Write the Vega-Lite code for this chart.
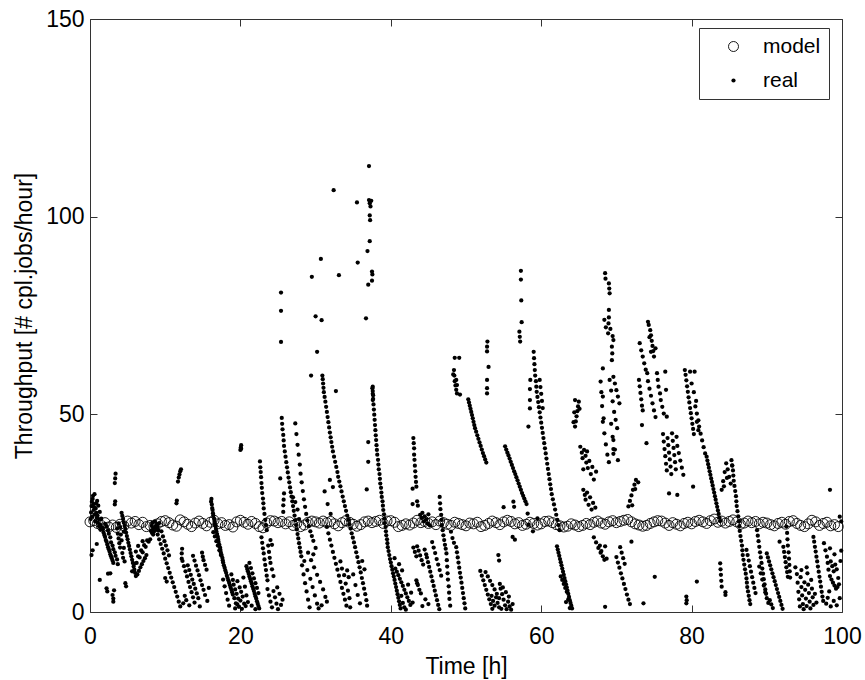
{
"$schema":"https://vega.github.io/schema/vega-lite/v6.json",
"width":752,"height":593,
"autosize":{"type":"none"},
"padding":{"left":90,"top":19,"right":23,"bottom":68},
"background":"white",
"config":{"font":"Liberation Sans","view":{"stroke":"#333","strokeWidth":1},
"axis":{"grid":false,"domain":false,"tickColor":"#333","tickSize":-7,"labelFlush":false,"labelFontSize":23,"titleFontSize":23,"titleFontWeight":"normal","labelColor":"black","titleColor":"black"},
"legend":{"orient":"none","legendX":609,"legendY":9}},
"datasets":{
"model":[{"t":0,"y":22.8},{"t":0.5,"y":23.1},{"t":1,"y":22.4},{"t":1.5,"y":21.9},{"t":2,"y":22.6},{"t":2.5,"y":21.5},{"t":3,"y":22.0},{"t":3.5,"y":21.4},{"t":4,"y":22.2},{"t":4.5,"y":21.8},
{"t":5,"y":23.0},{"t":5.5,"y":22.5},{"t":6,"y":22.9},{"t":6.5,"y":22.1},{"t":7,"y":22.7},{"t":7.5,"y":21.6},{"t":8,"y":21.9},{"t":8.5,"y":21.7},{"t":9,"y":22.3},{"t":9.5,"y":22.9},
{"t":10,"y":23.1},{"t":10.5,"y":22.6},{"t":11,"y":22.0},{"t":11.5,"y":21.7},{"t":12,"y":23.3},{"t":12.5,"y":22.8},{"t":13,"y":22.2},{"t":13.5,"y":21.6},{"t":14,"y":22.5},{"t":14.5,"y":23.0},
{"t":15,"y":22.4},{"t":15.5,"y":21.8},{"t":16,"y":22.7},{"t":16.5,"y":23.2},{"t":17,"y":22.3},{"t":17.5,"y":22.6},{"t":18,"y":21.9},{"t":18.5,"y":22.1},{"t":19,"y":21.5},{"t":19.5,"y":22.8},
{"t":20,"y":23.2},{"t":20.5,"y":22.7},{"t":21,"y":22.2},{"t":21.5,"y":22.9},{"t":22,"y":22.4},{"t":22.5,"y":21.6},{"t":23,"y":21.3},{"t":23.5,"y":22.5},{"t":24,"y":23.1},{"t":24.5,"y":23.0},
{"t":25,"y":22.6},{"t":25.5,"y":22.9},{"t":26,"y":22.3},{"t":26.5,"y":22.8},{"t":27,"y":21.9},{"t":27.5,"y":22.4},{"t":28,"y":21.6},{"t":28.5,"y":22.0},{"t":29,"y":22.7},{"t":29.5,"y":23.0},
{"t":30,"y":22.8},{"t":30.5,"y":22.5},{"t":31,"y":23.0},{"t":31.5,"y":22.6},{"t":32,"y":22.9},{"t":32.5,"y":22.3},{"t":33,"y":21.8},{"t":33.5,"y":22.6},{"t":34,"y":23.1},{"t":34.5,"y":22.7},
{"t":35,"y":22.2},{"t":35.5,"y":21.7},{"t":36,"y":22.1},{"t":36.5,"y":22.8},{"t":37,"y":23.0},{"t":37.5,"y":22.6},{"t":38,"y":22.9},{"t":38.5,"y":23.2},{"t":39,"y":22.4},{"t":39.5,"y":23.0},
{"t":40,"y":23.1},{"t":40.5,"y":22.7},{"t":41,"y":21.6},{"t":41.5,"y":21.9},{"t":42,"y":22.3},{"t":42.5,"y":22.0},{"t":43,"y":22.5},{"t":43.5,"y":23.2},{"t":44,"y":22.6},{"t":44.5,"y":22.9},
{"t":45,"y":22.4},{"t":45.5,"y":22.8},{"t":46,"y":22.1},{"t":46.5,"y":23.0},{"t":47,"y":22.6},{"t":47.5,"y":22.2},{"t":48,"y":21.9},{"t":48.5,"y":22.7},{"t":49,"y":22.4},{"t":49.5,"y":22.1},
{"t":50,"y":21.8},{"t":50.5,"y":22.5},{"t":51,"y":22.3},{"t":51.5,"y":22.7},{"t":52,"y":21.6},{"t":52.5,"y":21.9},{"t":53,"y":22.4},{"t":53.5,"y":23.0},{"t":54,"y":22.6},{"t":54.5,"y":22.1},
{"t":55,"y":22.8},{"t":55.5,"y":23.2},{"t":56,"y":22.9},{"t":56.5,"y":22.3},{"t":57,"y":22.6},{"t":57.5,"y":21.9},{"t":58,"y":22.2},{"t":58.5,"y":22.7},{"t":59,"y":22.4},{"t":59.5,"y":22.0},
{"t":60,"y":22.3},{"t":60.5,"y":22.9},{"t":61,"y":23.0},{"t":61.5,"y":22.6},{"t":62,"y":22.1},{"t":62.5,"y":21.8},{"t":63,"y":21.5},{"t":63.5,"y":21.7},{"t":64,"y":22.3},{"t":64.5,"y":22.0},
{"t":65,"y":21.6},{"t":65.5,"y":21.9},{"t":66,"y":22.4},{"t":66.5,"y":22.1},{"t":67,"y":22.7},{"t":67.5,"y":23.0},{"t":68,"y":22.5},{"t":68.5,"y":22.2},{"t":69,"y":22.8},{"t":69.5,"y":23.1},
{"t":70,"y":22.6},{"t":70.5,"y":22.9},{"t":71,"y":23.2},{"t":71.5,"y":23.4},{"t":72,"y":22.8},{"t":72.5,"y":22.3},{"t":73,"y":22.0},{"t":73.5,"y":21.7},{"t":74,"y":21.9},{"t":74.5,"y":22.4},
{"t":75,"y":22.8},{"t":75.5,"y":23.1},{"t":76,"y":23.0},{"t":76.5,"y":22.5},{"t":77,"y":21.9},{"t":77.5,"y":22.6},{"t":78,"y":22.2},{"t":78.5,"y":21.8},{"t":79,"y":22.4},{"t":79.5,"y":22.7},
{"t":80,"y":22.3},{"t":80.5,"y":22.9},{"t":81,"y":23.2},{"t":81.5,"y":22.8},{"t":82,"y":22.4},{"t":82.5,"y":23.1},{"t":83,"y":23.5},{"t":83.5,"y":22.7},{"t":84,"y":23.0},{"t":84.5,"y":22.5},
{"t":85,"y":22.9},{"t":85.5,"y":23.3},{"t":86,"y":22.8},{"t":86.5,"y":22.2},{"t":87,"y":22.5},{"t":87.5,"y":23.0},{"t":88,"y":22.6},{"t":88.5,"y":22.9},{"t":89,"y":22.3},{"t":89.5,"y":22.7},
{"t":90,"y":22.5},{"t":90.5,"y":22.1},{"t":91,"y":21.8},{"t":91.5,"y":22.4},{"t":92,"y":22.7},{"t":92.5,"y":22.2},{"t":93,"y":22.9},{"t":93.5,"y":23.1},{"t":94,"y":22.4},{"t":94.5,"y":21.9},
{"t":95,"y":21.6},{"t":95.5,"y":22.3},{"t":96,"y":23.2},{"t":96.5,"y":22.8},{"t":97,"y":21.9},{"t":97.5,"y":22.4},{"t":98,"y":22.7},{"t":98.5,"y":21.8},{"t":99,"y":22.1},{"t":99.5,"y":21.6}],
"real":[
{"t":0.1,"y":23.5},{"t":0.15,"y":25.2},{"t":0.2,"y":26.8},{"t":0.25,"y":27.9},{"t":0.3,"y":24.1},{"t":0.35,"y":28.6},{"t":0.4,"y":29.4},{"t":0.45,"y":27.3},{"t":0.5,"y":25.8},{"t":0.55,"y":26.5},{"t":0.6,"y":29.8},{"t":0.65,"y":24.7},{"t":0.7,"y":22.9},{"t":0.75,"y":26.2},{"t":0.8,"y":27.5},{"t":0.85,"y":25.1},{"t":0.9,"y":23.8},{"t":0.95,"y":28.1},{"t":1.0,"y":24.4},{"t":1.05,"y":22.6},{"t":1.1,"y":26.9},{"t":1.15,"y":23.5},{"t":1.2,"y":21.7},{"t":1.3,"y":25.3},{"t":1.35,"y":22.1},{"t":1.4,"y":20.8},{"t":1.5,"y":23.6},{"t":1.55,"y":21.2},
{"t":0.2,"y":14.4},{"t":0.35,"y":15.6},{"t":1.3,"y":8.1},{"t":0.9,"y":17.2},
{"t":1.6,"y":21.4},{"t":1.7,"y":20.9},{"t":1.8,"y":20.1},{"t":1.9,"y":19.5},{"t":2.0,"y":19.0},{"t":2.1,"y":18.2},{"t":2.2,"y":17.8},{"t":2.3,"y":17.1},{"t":2.4,"y":16.4},{"t":2.5,"y":15.9},{"t":2.6,"y":15.3},{"t":2.7,"y":14.6},{"t":2.8,"y":14.1},{"t":2.9,"y":13.6},{"t":3.0,"y":13.0},{"t":3.1,"y":12.4},
{"t":2.0,"y":22.3},{"t":2.2,"y":21.6},{"t":2.4,"y":20.7},{"t":2.5,"y":19.8},{"t":2.7,"y":18.9},{"t":2.8,"y":17.6},{"t":3.0,"y":16.8},{"t":3.1,"y":15.9},{"t":3.3,"y":15.1},{"t":3.4,"y":14.2},{"t":3.6,"y":13.3},{"t":3.7,"y":12.1},
{"t":2.2,"y":6.0},{"t":2.3,"y":5.2},{"t":2.7,"y":9.8},{"t":2.4,"y":9.7},{"t":3.0,"y":4.3},{"t":3.1,"y":3.4},{"t":3.1,"y":2.6},{"t":3.2,"y":5.5},
{"t":3.3,"y":32.6},{"t":3.35,"y":33.8},{"t":3.4,"y":35.0},{"t":3.3,"y":27.2},{"t":3.35,"y":28.0},
{"t":3.6,"y":21.1},{"t":3.7,"y":19.8},{"t":3.8,"y":18.6},{"t":3.9,"y":17.4},{"t":4.0,"y":16.3},{"t":4.1,"y":19.6},{"t":4.2,"y":18.1},{"t":4.3,"y":14.9},{"t":4.4,"y":13.7},{"t":4.5,"y":16.2},{"t":4.6,"y":12.8},{"t":3.8,"y":22.4},{"t":4.0,"y":21.5},{"t":4.5,"y":20.3},
{"t":4.2,"y":25.1},{"t":4.3,"y":24.3},{"t":4.4,"y":23.5},{"t":4.5,"y":22.6},{"t":4.6,"y":21.8},{"t":4.7,"y":21.0},{"t":4.8,"y":20.1},{"t":4.9,"y":19.2},{"t":5.0,"y":18.4},{"t":5.1,"y":17.5},{"t":5.2,"y":16.7},{"t":5.3,"y":15.8},{"t":5.4,"y":14.9},{"t":5.5,"y":14.1},{"t":5.6,"y":13.2},{"t":5.7,"y":12.4},{"t":5.8,"y":11.5},{"t":5.9,"y":10.7},{"t":6.0,"y":9.9},{"t":6.1,"y":9.1},
{"t":4.7,"y":7.3},{"t":4.8,"y":6.5},
{"t":5.6,"y":10.3},{"t":5.9,"y":12.2},{"t":6.2,"y":12.4},{"t":6.4,"y":14.1},{"t":6.6,"y":13.8},{"t":6.8,"y":15.6},{"t":7.0,"y":15.1},{"t":7.2,"y":16.9},{"t":7.4,"y":16.5},{"t":7.6,"y":18.1},{"t":7.8,"y":17.8},{"t":8.0,"y":18.4},
{"t":6.3,"y":9.5},{"t":6.5,"y":10.4},{"t":6.7,"y":11.3},{"t":6.9,"y":12.1},{"t":7.1,"y":12.9},{"t":7.3,"y":13.6},{"t":7.5,"y":14.4},{"t":6.1,"y":15.3},{"t":6.4,"y":16.7},{"t":7.0,"y":17.9},
{"t":8.1,"y":20.5},{"t":8.2,"y":21.8},{"t":8.3,"y":22.6},{"t":8.4,"y":21.1},{"t":8.5,"y":20.3},{"t":8.6,"y":22.9},{"t":8.7,"y":21.6},{"t":8.8,"y":20.8},{"t":8.9,"y":22.2},{"t":9.0,"y":21.4},{"t":9.1,"y":20.6},{"t":9.2,"y":22.5},{"t":8.4,"y":19.6},{"t":8.25,"y":20.0},
{"t":9.0,"y":19.6},{"t":9.2,"y":18.4},{"t":9.4,"y":17.2},{"t":9.6,"y":16.0},{"t":9.8,"y":14.8},{"t":10.0,"y":13.5},{"t":10.2,"y":12.3},{"t":10.4,"y":11.1},{"t":10.6,"y":9.9},{"t":10.8,"y":8.7},{"t":11.0,"y":7.5},{"t":11.2,"y":6.3},{"t":11.4,"y":5.1},{"t":11.6,"y":3.9},{"t":11.8,"y":2.6},{"t":12.0,"y":1.4},
{"t":9.5,"y":20.4},{"t":9.7,"y":19.1},{"t":9.9,"y":17.9},{"t":10.1,"y":16.8},{"t":10.3,"y":15.6},{"t":10.5,"y":14.3},
{"t":10.2,"y":7.7},{"t":10.0,"y":8.6},
{"t":11.5,"y":27.5},{"t":11.55,"y":28.2},{"t":11.7,"y":33.0},{"t":11.8,"y":34.0},{"t":11.9,"y":34.8},{"t":12.0,"y":35.6},{"t":12.1,"y":36.1},
{"t":12.2,"y":13.5},{"t":12.2,"y":14.8},{"t":12.25,"y":16.0},
{"t":12.3,"y":12.9},{"t":12.5,"y":11.6},{"t":12.7,"y":10.3},{"t":12.9,"y":9.0},{"t":13.1,"y":7.6},{"t":13.3,"y":6.3},{"t":13.5,"y":5.0},{"t":13.7,"y":3.7},{"t":13.9,"y":2.4},
{"t":13.0,"y":11.8},{"t":13.2,"y":10.6},{"t":13.4,"y":9.4},{"t":13.6,"y":8.2},{"t":13.8,"y":7.1},{"t":14.0,"y":5.9},{"t":14.2,"y":4.7},{"t":14.4,"y":3.5},
{"t":13.7,"y":14.2},{"t":13.9,"y":13.0},{"t":14.1,"y":11.7},{"t":14.3,"y":10.5},{"t":14.5,"y":9.3},{"t":14.7,"y":8.0},{"t":14.9,"y":6.8},{"t":15.1,"y":5.6},{"t":15.3,"y":4.3},
{"t":14.9,"y":15.0},{"t":15.0,"y":14.0},{"t":15.1,"y":13.1},{"t":15.3,"y":11.9},{"t":15.5,"y":10.7},
{"t":12.6,"y":4.1},{"t":12.8,"y":3.0},{"t":12.4,"y":2.2},{"t":13.2,"y":1.7},{"t":14.6,"y":1.4},{"t":15.6,"y":2.8},{"t":15.8,"y":6.1},
{"t":16.1,"y":27.9},{"t":16.15,"y":28.6},{"t":16.2,"y":27.2},{"t":16.25,"y":26.3},{"t":16.3,"y":25.8},{"t":16.35,"y":25.0},{"t":16.4,"y":24.4},{"t":16.5,"y":23.6},{"t":16.55,"y":23.0},{"t":16.6,"y":22.3},{"t":16.7,"y":21.7},{"t":16.75,"y":21.0},{"t":16.8,"y":20.4},{"t":16.9,"y":19.7},{"t":17.0,"y":19.0},{"t":17.05,"y":18.3},{"t":17.1,"y":17.7},{"t":17.2,"y":17.0},{"t":17.3,"y":16.3},{"t":17.35,"y":15.7},{"t":17.4,"y":15.0},{"t":17.5,"y":14.4},{"t":17.6,"y":13.7},{"t":17.65,"y":13.1},{"t":17.7,"y":12.5},{"t":17.8,"y":11.8},{"t":17.9,"y":11.2},{"t":18.0,"y":10.5},{"t":18.1,"y":9.9},{"t":18.2,"y":9.2},{"t":18.3,"y":8.6},{"t":18.4,"y":8.0},{"t":18.5,"y":7.4},{"t":18.6,"y":6.8},{"t":18.7,"y":6.2},{"t":18.8,"y":5.6},{"t":18.9,"y":5.0},{"t":19.0,"y":4.4},
{"t":16.4,"y":20.2},{"t":16.6,"y":19.1},{"t":16.8,"y":17.9},{"t":17.0,"y":16.8},{"t":17.2,"y":15.6},{"t":17.4,"y":14.4},
{"t":17.7,"y":8.2},{"t":17.9,"y":6.5},{"t":18.1,"y":4.8},{"t":18.3,"y":3.1},{"t":18.5,"y":1.6},{"t":18.8,"y":9.5},{"t":19.0,"y":8.1},{"t":19.1,"y":6.9},{"t":19.2,"y":3.5},{"t":19.3,"y":5.7},{"t":19.4,"y":2.2},{"t":19.5,"y":4.6},{"t":19.6,"y":7.8},{"t":19.7,"y":3.4},{"t":19.8,"y":1.3},{"t":19.9,"y":6.2},{"t":20.0,"y":2.9},{"t":20.1,"y":5.1},{"t":20.2,"y":0.8},{"t":20.3,"y":3.9},{"t":20.4,"y":8.7},{"t":20.5,"y":2.1},{"t":20.6,"y":6.4},{"t":20.7,"y":1.5},{"t":20.8,"y":4.2},{"t":19.3,"y":0.9},{"t":19.6,"y":1.9},
{"t":20.0,"y":41.0},{"t":20.05,"y":41.6},{"t":20.1,"y":42.2},{"t":20.1,"y":41.3},
{"t":20.8,"y":11.6},{"t":20.9,"y":10.9},{"t":21.0,"y":10.3},{"t":21.1,"y":9.7},{"t":21.2,"y":9.0},{"t":21.3,"y":8.4},{"t":21.4,"y":7.8},{"t":21.5,"y":7.2},{"t":21.6,"y":6.5},{"t":21.7,"y":5.9},{"t":21.8,"y":5.3},{"t":21.9,"y":4.6},{"t":22.0,"y":4.0},{"t":22.1,"y":3.4},{"t":22.2,"y":2.7},{"t":22.3,"y":2.1},{"t":22.4,"y":1.5},{"t":22.5,"y":0.9},
{"t":21.2,"y":12.4},{"t":21.4,"y":11.1},{"t":21.6,"y":9.8},{"t":21.8,"y":8.5},{"t":22.0,"y":7.3},{"t":22.2,"y":6.1},{"t":22.4,"y":4.8},
{"t":21.0,"y":2.5},{"t":21.5,"y":1.6},{"t":22.0,"y":0.7},
{"t":22.6,"y":38.1},{"t":22.65,"y":36.6},{"t":22.7,"y":35.4},{"t":22.75,"y":34.1},{"t":22.8,"y":32.6},{"t":22.85,"y":31.4},{"t":22.9,"y":30.1},{"t":23.0,"y":28.7},{"t":23.05,"y":27.5},{"t":23.1,"y":26.2},{"t":23.2,"y":24.8},{"t":23.3,"y":23.3},{"t":23.4,"y":22.0},{"t":23.5,"y":20.7},
{"t":22.8,"y":18.9},{"t":22.9,"y":17.5},{"t":23.0,"y":16.1},{"t":23.1,"y":14.8},{"t":23.2,"y":13.3},{"t":23.3,"y":11.9},{"t":23.4,"y":10.6},{"t":23.5,"y":9.2},{"t":23.6,"y":8.0},{"t":23.7,"y":16.8},{"t":23.8,"y":15.2},{"t":23.9,"y":13.7},{"t":24.0,"y":12.4},{"t":24.2,"y":10.8},{"t":24.4,"y":9.1},{"t":24.0,"y":18.2},{"t":24.2,"y":17.0},
{"t":23.6,"y":5.8},{"t":23.8,"y":4.2},{"t":24.0,"y":2.6},{"t":24.2,"y":1.2},{"t":24.4,"y":5.3},{"t":24.6,"y":3.7},{"t":24.8,"y":2.1},{"t":25.0,"y":0.7},{"t":25.2,"y":4.6},{"t":25.4,"y":1.8},{"t":25.6,"y":3.1},{"t":24.9,"y":6.2},
{"t":25.3,"y":33.8},{"t":25.4,"y":80.8},{"t":25.4,"y":76.2},{"t":25.4,"y":68.3},
{"t":25.5,"y":49.1},{"t":25.55,"y":47.6},{"t":25.6,"y":46.2},{"t":25.7,"y":44.8},{"t":25.75,"y":43.4},{"t":25.8,"y":42.0},{"t":25.9,"y":40.6},{"t":26.0,"y":39.3},{"t":26.1,"y":37.9},{"t":26.2,"y":36.6},{"t":26.3,"y":35.3},{"t":26.4,"y":34.0},{"t":26.5,"y":32.8},{"t":26.6,"y":31.5},{"t":26.7,"y":30.3},{"t":26.8,"y":29.2},
{"t":26.9,"y":28.0},{"t":27.0,"y":26.8},{"t":27.1,"y":25.6},{"t":27.2,"y":24.4},{"t":27.3,"y":23.2},{"t":27.4,"y":22.0},{"t":27.5,"y":20.9},{"t":27.6,"y":19.7},{"t":27.7,"y":18.6},{"t":27.8,"y":17.4},{"t":27.9,"y":16.3},{"t":28.0,"y":15.2},{"t":28.1,"y":14.1},
{"t":25.7,"y":25.3},{"t":25.7,"y":27.0},{"t":25.75,"y":28.4},{"t":25.8,"y":30.0},
{"t":27.3,"y":47.7},{"t":27.45,"y":45.0},{"t":27.6,"y":42.3},{"t":27.75,"y":39.8},{"t":27.9,"y":37.3},{"t":28.0,"y":35.0},{"t":28.15,"y":32.8},{"t":28.3,"y":30.6},{"t":28.45,"y":28.5},{"t":28.6,"y":26.6},{"t":28.75,"y":24.8},{"t":28.9,"y":23.2},{"t":29.1,"y":21.7},{"t":29.3,"y":20.4},{"t":29.5,"y":19.2},{"t":29.7,"y":18.0},
{"t":27.0,"y":29.0},{"t":27.3,"y":27.8},{"t":27.6,"y":25.9},{"t":27.8,"y":23.5},
{"t":28.2,"y":11.8},{"t":28.4,"y":9.5},{"t":28.6,"y":7.3},{"t":28.8,"y":5.2},{"t":29.0,"y":3.1},{"t":29.2,"y":1.2},{"t":28.5,"y":12.9},{"t":28.9,"y":10.6},{"t":29.3,"y":8.4},{"t":29.6,"y":6.3},{"t":29.9,"y":4.2},{"t":30.2,"y":2.1},{"t":29.0,"y":15.0},{"t":29.4,"y":13.1},{"t":29.8,"y":11.3},{"t":30.2,"y":9.4},{"t":30.6,"y":7.6},{"t":31.0,"y":5.7},{"t":31.3,"y":3.8},{"t":30.4,"y":0.9},{"t":30.8,"y":1.7},{"t":31.5,"y":2.6},{"t":29.7,"y":14.6},{"t":30.0,"y":16.2},
{"t":29.5,"y":84.8},{"t":29.4,"y":59.8},{"t":30.0,"y":74.8},{"t":30.2,"y":65.8},{"t":30.7,"y":89.3},{"t":30.8,"y":73.8},{"t":32.4,"y":106.7},{"t":33.1,"y":85.2},{"t":35.5,"y":103.6},{"t":35.6,"y":88.4},{"t":36.7,"y":74.3},{"t":32.7,"y":55.9},
{"t":30.9,"y":59.8},{"t":30.95,"y":58.9},{"t":31.0,"y":57.8},{"t":31.05,"y":56.7},{"t":31.1,"y":55.6},{"t":31.2,"y":54.4},{"t":31.3,"y":53.2},{"t":31.4,"y":51.9},{"t":31.5,"y":50.6},{"t":31.6,"y":49.3},{"t":31.7,"y":48.0},{"t":31.8,"y":46.7},{"t":31.9,"y":45.4},{"t":32.0,"y":44.2},{"t":32.1,"y":43.0},{"t":32.2,"y":41.8},{"t":32.3,"y":40.6},{"t":32.45,"y":39.3},{"t":32.6,"y":38.0},{"t":32.75,"y":36.7},{"t":32.9,"y":35.4},{"t":33.0,"y":34.2},{"t":33.15,"y":33.0},{"t":33.3,"y":31.8},{"t":33.45,"y":30.5},{"t":33.6,"y":29.2},{"t":33.75,"y":28.0},{"t":33.9,"y":26.8},{"t":34.05,"y":25.6},{"t":34.2,"y":24.4},{"t":34.35,"y":23.3},{"t":34.5,"y":22.2},{"t":34.65,"y":21.1},
{"t":34.8,"y":19.9},{"t":34.95,"y":18.8},{"t":35.1,"y":17.6},{"t":35.25,"y":16.4},{"t":35.4,"y":15.1},{"t":35.55,"y":13.9},{"t":35.7,"y":12.6},{"t":35.85,"y":11.3},{"t":36.0,"y":10.0},{"t":36.15,"y":8.6},{"t":36.3,"y":7.3},{"t":36.45,"y":5.9},{"t":36.6,"y":4.5},{"t":36.75,"y":3.0},{"t":36.85,"y":1.6},
{"t":31.5,"y":21.5},{"t":31.7,"y":19.9},{"t":31.9,"y":18.3},{"t":32.1,"y":16.8},{"t":32.3,"y":15.2},{"t":32.5,"y":13.7},{"t":32.7,"y":12.2},{"t":32.9,"y":10.7},{"t":33.1,"y":9.2},{"t":33.3,"y":7.6},{"t":33.5,"y":6.1},{"t":33.7,"y":4.6},{"t":33.9,"y":3.1},{"t":34.1,"y":1.6},
{"t":31.2,"y":30.5},{"t":31.6,"y":27.3},{"t":32.0,"y":24.8},{"t":32.3,"y":31.6},{"t":31.9,"y":33.4},
{"t":33.3,"y":12.8},{"t":33.5,"y":11.0},{"t":33.8,"y":9.3},{"t":34.0,"y":7.2},{"t":34.3,"y":5.4},{"t":34.5,"y":3.5},{"t":34.6,"y":1.2},{"t":34.2,"y":10.5},{"t":34.4,"y":8.8},
{"t":35.3,"y":6.8},{"t":35.6,"y":4.3},{"t":35.9,"y":2.2},{"t":36.2,"y":12.9},{"t":36.5,"y":10.8},{"t":35.0,"y":9.5},
{"t":37.1,"y":112.8},{"t":37.1,"y":104.2},{"t":37.2,"y":103.4},{"t":37.3,"y":102.6},{"t":37.4,"y":104.0},{"t":37.2,"y":100.3},{"t":37.25,"y":99.1},{"t":37.2,"y":93.8},{"t":36.9,"y":91.3},{"t":37.5,"y":86.1},{"t":37.55,"y":85.4},{"t":37.5,"y":83.8},{"t":37.0,"y":82.8},
{"t":37.6,"y":57.0},{"t":37.6,"y":55.9},{"t":37.65,"y":54.8},{"t":37.6,"y":53.6},
{"t":37.0,"y":43.0},{"t":37.0,"y":38.0},{"t":36.8,"y":31.0},
{"t":37.55,"y":56.6},{"t":37.6,"y":55.2},{"t":37.65,"y":53.9},{"t":37.7,"y":52.5},{"t":37.75,"y":51.2},{"t":37.8,"y":49.9},{"t":37.85,"y":48.6},{"t":37.9,"y":47.3},{"t":37.95,"y":46.0},{"t":38.0,"y":44.7},{"t":38.05,"y":43.5},{"t":38.1,"y":42.2},{"t":38.15,"y":41.0},{"t":38.2,"y":39.8},{"t":38.3,"y":38.5},{"t":38.35,"y":37.3},{"t":38.4,"y":36.1},{"t":38.5,"y":34.9},{"t":38.55,"y":33.7},{"t":38.6,"y":32.5},{"t":38.7,"y":31.4},{"t":38.75,"y":30.2},{"t":38.8,"y":29.1},{"t":38.9,"y":28.0},{"t":38.95,"y":26.9},{"t":39.0,"y":25.8},{"t":39.1,"y":24.7},{"t":39.15,"y":23.6},{"t":39.2,"y":22.5},{"t":39.3,"y":21.5},{"t":39.35,"y":20.4},{"t":39.4,"y":19.4},{"t":39.5,"y":18.4},{"t":39.55,"y":17.4},{"t":39.6,"y":16.4},{"t":39.7,"y":15.4},{"t":39.8,"y":14.4},{"t":39.9,"y":13.4},{"t":40.0,"y":12.5},{"t":40.1,"y":11.6},{"t":40.2,"y":10.7},{"t":40.3,"y":9.8},
{"t":40.4,"y":9.0},{"t":40.5,"y":8.1},{"t":40.6,"y":7.2},{"t":40.7,"y":6.3},{"t":40.8,"y":5.4},{"t":40.9,"y":4.5},{"t":41.0,"y":3.6},{"t":41.1,"y":2.7},{"t":41.2,"y":1.8},{"t":41.3,"y":0.9},{"t":40.6,"y":11.0},{"t":40.8,"y":10.2},{"t":41.0,"y":9.3},{"t":41.2,"y":8.4},{"t":41.4,"y":7.5},{"t":41.6,"y":6.6},{"t":41.8,"y":5.6},{"t":42.0,"y":4.7},{"t":42.2,"y":3.7},{"t":42.4,"y":2.8},{"t":42.6,"y":1.8},{"t":41.4,"y":4.1},{"t":41.6,"y":2.3},{"t":41.8,"y":1.2},{"t":42.0,"y":0.6},{"t":41.5,"y":10.5},{"t":42.3,"y":6.9},{"t":42.7,"y":4.9},{"t":42.9,"y":2.4},{"t":40.5,"y":13.6},{"t":41.1,"y":12.1},
{"t":43.0,"y":44.0},{"t":43.05,"y":42.7},{"t":43.1,"y":41.4},{"t":43.1,"y":39.8},{"t":43.15,"y":38.5},{"t":43.2,"y":37.0},{"t":43.25,"y":35.6},{"t":43.3,"y":34.2},{"t":43.35,"y":32.9},{"t":43.4,"y":31.7},{"t":42.9,"y":31.2},
{"t":42.9,"y":27.3},{"t":43.5,"y":28.0},{"t":43.6,"y":26.9},
{"t":43.9,"y":24.6},{"t":44.1,"y":23.8},{"t":44.2,"y":25.1},{"t":44.4,"y":22.9},{"t":44.5,"y":24.2},{"t":44.7,"y":23.4},{"t":44.9,"y":22.4},{"t":45.0,"y":24.7},{"t":45.2,"y":21.9},
{"t":43.0,"y":16.3},{"t":43.2,"y":15.2},{"t":43.4,"y":14.1},{"t":43.5,"y":16.6},{"t":43.7,"y":15.5},{"t":43.9,"y":14.3},{"t":44.1,"y":13.1},{"t":44.3,"y":12.0},{"t":44.5,"y":15.8},{"t":44.7,"y":14.6},
{"t":43.4,"y":8.0},{"t":43.6,"y":6.8},{"t":43.8,"y":5.6},{"t":44.0,"y":4.7},{"t":43.5,"y":7.3},
{"t":44.8,"y":13.8},{"t":44.95,"y":12.6},{"t":45.1,"y":11.4},{"t":45.25,"y":10.2},{"t":45.4,"y":9.0},{"t":45.55,"y":7.8},{"t":45.7,"y":6.6},{"t":45.85,"y":5.4},{"t":46.0,"y":4.2},{"t":46.15,"y":3.0},{"t":46.3,"y":1.8},{"t":46.45,"y":0.7},
{"t":46.5,"y":29.1},{"t":46.55,"y":27.5},{"t":46.6,"y":26.0},{"t":46.7,"y":24.6},{"t":46.75,"y":23.3},{"t":46.8,"y":22.0},{"t":46.9,"y":20.7},{"t":47.0,"y":19.4},{"t":47.1,"y":18.2},{"t":47.2,"y":17.0},{"t":47.3,"y":16.0},
{"t":47.4,"y":14.8},{"t":47.45,"y":13.1},{"t":47.5,"y":11.5},{"t":47.55,"y":9.8},{"t":47.6,"y":8.2},{"t":47.7,"y":6.5},{"t":47.75,"y":4.9},{"t":47.8,"y":3.3},{"t":47.9,"y":1.6},
{"t":45.5,"y":17.7},{"t":45.7,"y":16.3},{"t":45.9,"y":14.9},{"t":46.1,"y":13.4},{"t":46.3,"y":12.0},{"t":46.5,"y":10.6},{"t":46.7,"y":9.2},
{"t":44.2,"y":1.5},{"t":44.6,"y":3.2},{"t":45.0,"y":2.0},
{"t":48.4,"y":61.2},{"t":48.5,"y":64.3},{"t":48.45,"y":59.8},{"t":48.5,"y":58.4},{"t":48.6,"y":57.3},{"t":48.7,"y":56.2},{"t":48.8,"y":55.3},{"t":49.1,"y":64.3},{"t":48.3,"y":60.1},{"t":48.7,"y":58.7},{"t":48.8,"y":57.4},{"t":49.2,"y":55.0},
{"t":48.7,"y":16.4},{"t":48.8,"y":15.1},{"t":48.9,"y":13.8},{"t":49.0,"y":12.5},{"t":49.1,"y":11.2},{"t":49.2,"y":9.9},{"t":49.3,"y":8.7},{"t":49.4,"y":7.4},{"t":49.5,"y":6.1},{"t":49.6,"y":4.8},{"t":49.7,"y":3.5},{"t":49.8,"y":2.2},{"t":49.9,"y":0.9},{"t":48.2,"y":18.7},{"t":48.4,"y":17.5},{"t":48.0,"y":20.3},
{"t":50.3,"y":53.8},{"t":50.4,"y":53.0},{"t":50.5,"y":52.2},{"t":50.6,"y":51.4},{"t":50.7,"y":50.6},{"t":50.8,"y":49.8},{"t":50.9,"y":49.0},{"t":51.0,"y":48.1},{"t":51.1,"y":47.3},{"t":51.2,"y":46.5},{"t":51.35,"y":45.6},{"t":51.5,"y":44.7},{"t":51.65,"y":43.8},{"t":51.8,"y":42.9},{"t":51.95,"y":42.0},{"t":52.1,"y":41.1},{"t":52.25,"y":40.2},{"t":52.4,"y":39.4},{"t":52.55,"y":38.6},{"t":52.7,"y":37.8},
{"t":52.8,"y":65.9},{"t":52.8,"y":67.1},{"t":52.85,"y":68.4},{"t":53.0,"y":62.0},{"t":52.8,"y":55.3},{"t":52.8,"y":56.6},{"t":52.8,"y":58.7},
{"t":51.9,"y":10.4},{"t":52.1,"y":9.2},{"t":52.3,"y":8.0},{"t":52.5,"y":6.8},{"t":52.7,"y":5.6},{"t":52.9,"y":4.4},{"t":53.1,"y":3.2},{"t":53.3,"y":2.0},{"t":53.5,"y":0.8},{"t":52.6,"y":10.1},{"t":52.9,"y":9.0},{"t":53.2,"y":7.9},{"t":53.5,"y":6.8},{"t":53.8,"y":5.7},{"t":54.1,"y":4.6},{"t":54.4,"y":3.5},
{"t":53.4,"y":4.1},{"t":53.6,"y":2.8},{"t":53.8,"y":1.6},{"t":54.0,"y":3.7},{"t":54.2,"y":2.3},{"t":54.4,"y":1.2},{"t":54.6,"y":5.9},{"t":54.8,"y":4.5},{"t":55.0,"y":3.1},{"t":55.2,"y":1.7},{"t":55.4,"y":0.7},{"t":55.6,"y":2.6},{"t":55.8,"y":1.4},{"t":56.0,"y":0.6},{"t":56.2,"y":2.0},{"t":54.5,"y":7.1},{"t":54.9,"y":6.2},{"t":55.3,"y":5.0},{"t":55.7,"y":3.9},{"t":54.7,"y":0.8},
{"t":54.3,"y":14.4},{"t":54.4,"y":13.0},
{"t":55.2,"y":41.9},{"t":55.35,"y":41.1},{"t":55.5,"y":40.3},{"t":55.65,"y":39.6},{"t":55.8,"y":38.8},{"t":55.95,"y":38.0},{"t":56.1,"y":37.2},{"t":56.25,"y":36.4},{"t":56.4,"y":35.6},{"t":56.55,"y":34.9},{"t":56.7,"y":34.1},{"t":56.85,"y":33.3},{"t":57.0,"y":32.5},{"t":57.15,"y":31.7},{"t":57.3,"y":30.9},{"t":57.45,"y":30.1},{"t":57.6,"y":29.4},{"t":57.75,"y":28.7},{"t":57.9,"y":28.0},{"t":58.05,"y":27.3},
{"t":55.0,"y":26.5},{"t":56.3,"y":27.9},{"t":56.4,"y":26.6},{"t":56.2,"y":19.0},{"t":56.5,"y":18.3},
{"t":57.3,"y":86.3},{"t":57.3,"y":84.1},{"t":57.35,"y":78.8},{"t":57.4,"y":73.3},{"t":57.1,"y":70.9},{"t":57.15,"y":69.6},{"t":57.2,"y":68.4},
{"t":58.3,"y":46.9},{"t":58.5,"y":51.5},{"t":58.5,"y":53.6},{"t":58.5,"y":56.4},{"t":58.55,"y":58.7},
{"t":59.0,"y":65.8},{"t":59.05,"y":64.2},{"t":59.1,"y":62.7},{"t":59.15,"y":61.2},{"t":59.2,"y":59.8},{"t":59.3,"y":58.4},{"t":59.35,"y":57.0},{"t":59.4,"y":55.7},{"t":59.5,"y":54.4},{"t":59.6,"y":53.1},{"t":59.7,"y":51.8},{"t":59.8,"y":50.5},{"t":59.9,"y":49.2},{"t":60.0,"y":47.9},{"t":60.1,"y":46.6},{"t":60.2,"y":45.3},{"t":60.3,"y":44.0},{"t":60.4,"y":42.7},{"t":60.5,"y":41.4},{"t":60.6,"y":40.1},{"t":60.7,"y":38.8},{"t":60.8,"y":37.5},{"t":60.9,"y":36.2},{"t":61.0,"y":34.9},{"t":61.1,"y":33.6},{"t":61.2,"y":32.3},{"t":61.3,"y":31.1},{"t":61.4,"y":29.8},{"t":61.55,"y":28.5},{"t":61.7,"y":27.2},{"t":61.85,"y":25.9},{"t":62.0,"y":24.6},{"t":62.15,"y":23.3},{"t":62.3,"y":22.0},{"t":62.45,"y":20.7},
{"t":59.8,"y":58.7},{"t":59.9,"y":56.9},{"t":60.0,"y":55.2},{"t":60.1,"y":53.4},{"t":60.2,"y":51.6},
{"t":62.1,"y":16.6},{"t":62.2,"y":15.8},{"t":62.3,"y":15.0},{"t":62.4,"y":14.2},{"t":62.5,"y":13.4},{"t":62.6,"y":12.6},{"t":62.7,"y":11.8},{"t":62.8,"y":11.0},{"t":62.9,"y":10.2},{"t":63.0,"y":9.4},{"t":63.1,"y":8.6},{"t":63.2,"y":7.8},{"t":63.3,"y":7.0},{"t":63.4,"y":6.2},{"t":63.5,"y":5.4},{"t":63.6,"y":4.6},{"t":63.7,"y":3.8},{"t":63.8,"y":3.0},{"t":63.9,"y":2.3},{"t":64.0,"y":1.6},{"t":64.1,"y":0.9},
{"t":62.6,"y":9.0},{"t":62.8,"y":8.1},{"t":63.0,"y":7.1},{"t":63.2,"y":6.1},{"t":63.4,"y":5.1},{"t":63.6,"y":3.2},{"t":63.3,"y":2.5},{"t":63.8,"y":1.0},
{"t":64.5,"y":46.9},{"t":64.6,"y":48.2},{"t":64.7,"y":49.5},{"t":64.8,"y":50.8},{"t":64.9,"y":52.0},{"t":65.0,"y":53.2},{"t":65.1,"y":51.4},{"t":64.5,"y":53.6},{"t":64.3,"y":48.0},{"t":64.4,"y":50.5},
{"t":65.2,"y":41.8},{"t":65.4,"y":40.3},{"t":65.5,"y":38.9},{"t":65.7,"y":41.0},{"t":65.9,"y":39.5},{"t":66.0,"y":37.8},{"t":66.2,"y":36.4},{"t":66.4,"y":38.2},{"t":66.6,"y":34.9},{"t":66.8,"y":36.7},{"t":67.0,"y":33.5},{"t":67.3,"y":35.5},{"t":65.6,"y":36.1},{"t":66.1,"y":40.6},
{"t":65.6,"y":30.9},{"t":65.8,"y":29.6},{"t":65.9,"y":28.4},{"t":66.1,"y":30.2},{"t":66.3,"y":27.1},{"t":66.5,"y":29.0},{"t":66.7,"y":25.9},{"t":66.9,"y":27.6},{"t":67.2,"y":26.4},
{"t":67.0,"y":18.9},{"t":67.3,"y":17.6},{"t":67.6,"y":16.2},{"t":67.9,"y":15.0},{"t":68.2,"y":14.1},{"t":68.5,"y":16.6},{"t":68.7,"y":13.5},{"t":68.5,"y":1.3},
{"t":58.2,"y":24.9},{"t":58.3,"y":22.1},{"t":58.9,"y":20.4},{"t":59.5,"y":23.7},
{"t":68.5,"y":85.7},{"t":68.55,"y":84.3},{"t":69.0,"y":83.1},{"t":69.05,"y":81.8},{"t":69.1,"y":80.6},
{"t":69.0,"y":76.4},{"t":69.0,"y":74.5},{"t":68.95,"y":73.0},{"t":68.4,"y":73.9},{"t":68.6,"y":72.0},{"t":68.9,"y":70.5},{"t":69.2,"y":71.6},{"t":69.5,"y":69.8},{"t":69.6,"y":68.8},
{"t":69.4,"y":67.1},{"t":69.45,"y":65.4},{"t":69.4,"y":63.7},
{"t":68.2,"y":61.6},{"t":68.2,"y":54.5},{"t":68.2,"y":48.1},
{"t":69.6,"y":59.5},{"t":69.8,"y":57.8},{"t":70.0,"y":56.1},{"t":70.2,"y":54.5},{"t":70.4,"y":52.8},{"t":70.1,"y":46.5},
{"t":67.9,"y":58.3},{"t":68.0,"y":55.6},{"t":68.1,"y":52.1},{"t":68.3,"y":49.0},{"t":68.4,"y":45.2},{"t":68.6,"y":42.4},{"t":68.8,"y":39.8},{"t":69.0,"y":37.9},{"t":69.3,"y":47.6},{"t":69.5,"y":44.3},{"t":69.8,"y":41.1},{"t":70.2,"y":38.4},
{"t":69.1,"y":58.7},{"t":69.3,"y":56.0},{"t":69.5,"y":53.3},{"t":69.7,"y":50.6},{"t":69.9,"y":48.6},
{"t":69.6,"y":43.5},{"t":69.6,"y":41.2},{"t":69.6,"y":40.0},
{"t":67.8,"y":16.8},{"t":68.0,"y":15.4},{"t":68.4,"y":13.2},
{"t":70.0,"y":13.9},{"t":70.2,"y":12.5},{"t":70.4,"y":11.2},{"t":70.6,"y":9.8},{"t":70.8,"y":8.5},{"t":71.0,"y":7.1},{"t":71.2,"y":5.8},{"t":71.4,"y":4.4},{"t":71.6,"y":3.1},{"t":71.8,"y":2.0},
{"t":70.5,"y":16.4},{"t":70.7,"y":15.0},{"t":70.9,"y":13.6},{"t":71.1,"y":12.2},
{"t":71.6,"y":26.7},{"t":71.8,"y":28.1},{"t":72.0,"y":29.5},{"t":72.2,"y":30.9},{"t":72.4,"y":32.2},{"t":72.6,"y":33.4},{"t":72.1,"y":27.0},{"t":72.5,"y":31.1},{"t":72.9,"y":32.8},{"t":72.0,"y":17.8},
{"t":73.1,"y":68.0},{"t":73.3,"y":66.2},{"t":73.5,"y":64.6},{"t":73.7,"y":62.9},{"t":73.9,"y":61.3},{"t":74.1,"y":60.4},{"t":74.2,"y":73.4},{"t":74.3,"y":72.6},{"t":74.5,"y":71.3},{"t":74.6,"y":70.0},{"t":74.7,"y":68.6},{"t":74.8,"y":67.3},{"t":74.9,"y":66.0},{"t":75.0,"y":64.6},{"t":74.4,"y":69.5},{"t":74.6,"y":65.8},{"t":75.2,"y":66.7},
{"t":73.0,"y":58.7},{"t":73.1,"y":57.1},{"t":73.2,"y":55.4},{"t":73.3,"y":53.8},{"t":73.4,"y":52.2},{"t":73.5,"y":51.0},{"t":73.4,"y":47.3},
{"t":74.2,"y":58.4},{"t":74.4,"y":56.5},{"t":74.6,"y":54.7},{"t":74.8,"y":52.8},{"t":75.0,"y":51.0},{"t":75.2,"y":49.3},
{"t":75.4,"y":60.4},{"t":75.5,"y":58.7},{"t":75.6,"y":57.0},{"t":75.8,"y":55.3},{"t":75.9,"y":53.6},{"t":76.1,"y":51.9},{"t":76.3,"y":50.2},{"t":76.5,"y":60.8},{"t":76.7,"y":49.4},{"t":76.6,"y":56.2},
{"t":74.0,"y":42.7},{"t":75.1,"y":8.9},{"t":73.6,"y":2.2},
{"t":76.2,"y":45.0},{"t":76.3,"y":43.1},{"t":76.4,"y":41.2},{"t":76.5,"y":39.4},{"t":76.6,"y":37.5},{"t":76.7,"y":35.8},{"t":76.8,"y":44.0},{"t":76.9,"y":42.2},{"t":77.0,"y":40.3},{"t":77.1,"y":38.6},{"t":77.2,"y":36.8},{"t":77.3,"y":34.9},{"t":77.5,"y":43.3},{"t":77.6,"y":41.5},{"t":77.7,"y":39.7},{"t":77.8,"y":37.9},{"t":77.9,"y":36.1},{"t":78.1,"y":42.0},{"t":78.3,"y":40.2},{"t":78.5,"y":38.3},{"t":78.7,"y":36.5},{"t":78.9,"y":34.7},{"t":77.4,"y":45.2},{"t":78.0,"y":44.3},
{"t":77.0,"y":30.0},{"t":78.1,"y":29.6},
{"t":79.3,"y":2.2},{"t":79.3,"y":3.9},{"t":79.35,"y":3.0},{"t":80.7,"y":7.7},{"t":80.2,"y":31.7},
{"t":79.1,"y":61.2},{"t":79.2,"y":60.0},{"t":79.3,"y":58.6},{"t":79.4,"y":57.1},{"t":79.5,"y":55.7},{"t":79.6,"y":54.3},{"t":79.7,"y":53.0},{"t":79.8,"y":51.6},{"t":79.9,"y":50.3},{"t":80.0,"y":49.0},{"t":80.1,"y":47.6},{"t":80.2,"y":46.3},{"t":80.3,"y":45.0},{"t":80.4,"y":60.8},{"t":79.8,"y":60.8},
{"t":80.0,"y":57.8},{"t":80.3,"y":55.6},{"t":80.6,"y":53.4},{"t":80.7,"y":48.1},{"t":80.9,"y":46.0},
{"t":80.5,"y":52.0},{"t":80.7,"y":50.2},{"t":80.9,"y":48.5},{"t":81.0,"y":46.9},{"t":81.2,"y":45.1},{"t":81.4,"y":43.4},{"t":81.6,"y":41.7},{"t":81.8,"y":40.1},
{"t":82.0,"y":39.3},{"t":82.1,"y":38.3},{"t":82.2,"y":37.4},{"t":82.3,"y":36.5},{"t":82.4,"y":35.6},{"t":82.5,"y":34.7},{"t":82.6,"y":33.8},{"t":82.7,"y":32.9},{"t":82.8,"y":32.0},{"t":82.9,"y":31.1},{"t":83.0,"y":30.2},{"t":83.1,"y":29.3},{"t":83.2,"y":28.4},{"t":83.3,"y":27.5},{"t":83.4,"y":26.6},{"t":83.5,"y":25.7},{"t":83.6,"y":24.8},{"t":83.7,"y":23.9},{"t":83.8,"y":23.0},
{"t":84.0,"y":30.9},{"t":84.2,"y":33.1},{"t":84.4,"y":35.4},{"t":84.6,"y":37.6},{"t":84.8,"y":36.1},{"t":85.0,"y":34.2},{"t":85.2,"y":32.5},{"t":84.3,"y":31.8},{"t":84.7,"y":33.9},{"t":85.4,"y":37.0},
{"t":83.8,"y":12.3},{"t":83.85,"y":10.8},{"t":83.9,"y":9.4},{"t":83.95,"y":7.9},{"t":84.0,"y":6.4},{"t":84.5,"y":5.0},{"t":84.5,"y":4.3},
{"t":85.3,"y":38.4},{"t":85.4,"y":37.1},{"t":85.5,"y":35.8},{"t":85.55,"y":34.5},{"t":85.6,"y":33.2},{"t":85.7,"y":31.9},{"t":85.8,"y":30.6},{"t":85.9,"y":29.3},{"t":85.95,"y":28.0},{"t":86.0,"y":26.8},{"t":86.1,"y":25.5},{"t":86.2,"y":24.2},{"t":86.3,"y":22.9},{"t":86.35,"y":21.7},{"t":86.4,"y":20.5},{"t":86.5,"y":19.2},{"t":86.6,"y":18.0},{"t":86.7,"y":16.8},{"t":86.75,"y":15.6},{"t":86.8,"y":14.4},{"t":86.9,"y":13.2},{"t":87.0,"y":12.0},{"t":87.1,"y":10.8},{"t":87.2,"y":9.7},{"t":87.3,"y":8.5},{"t":87.35,"y":7.4},{"t":87.4,"y":6.3},{"t":87.5,"y":5.2},{"t":87.6,"y":4.1},{"t":87.7,"y":3.0},{"t":87.8,"y":2.0},
{"t":87.3,"y":15.7},{"t":87.45,"y":14.4},{"t":87.6,"y":13.0},{"t":87.75,"y":11.6},{"t":87.9,"y":10.2},{"t":88.05,"y":8.8},{"t":88.2,"y":7.4},{"t":88.35,"y":6.1},{"t":88.5,"y":4.8},
{"t":88.7,"y":20.7},{"t":88.8,"y":19.3},{"t":88.9,"y":17.9},{"t":89.0,"y":16.5},{"t":89.1,"y":15.1},{"t":89.2,"y":13.8},{"t":89.3,"y":12.4},{"t":89.4,"y":11.0},{"t":89.5,"y":9.7},{"t":89.6,"y":8.3},{"t":89.7,"y":7.0},{"t":89.8,"y":5.7},{"t":89.9,"y":4.6},
{"t":89.0,"y":11.5},{"t":89.2,"y":9.8},{"t":89.4,"y":8.2},{"t":89.6,"y":6.7},{"t":89.8,"y":5.0},{"t":90.0,"y":3.5},{"t":90.2,"y":2.3},{"t":90.4,"y":3.0},{"t":90.6,"y":1.9},{"t":90.8,"y":1.0},
{"t":90.0,"y":14.8},{"t":90.15,"y":13.8},{"t":90.3,"y":12.8},{"t":90.45,"y":11.8},{"t":90.6,"y":10.8},{"t":90.75,"y":9.8},{"t":90.9,"y":8.8},{"t":91.05,"y":7.8},{"t":91.2,"y":6.8},{"t":91.35,"y":5.8},{"t":91.5,"y":4.8},{"t":91.65,"y":3.8},{"t":91.8,"y":2.8},{"t":91.95,"y":1.8},{"t":92.1,"y":0.8},
{"t":91.7,"y":17.8},
{"t":92.2,"y":16.5},{"t":92.3,"y":15.2},{"t":92.4,"y":13.9},{"t":92.5,"y":12.6},{"t":92.6,"y":11.3},{"t":92.7,"y":10.1},{"t":92.8,"y":8.9},
{"t":92.6,"y":21.6},{"t":92.7,"y":20.0},{"t":92.75,"y":18.4},{"t":92.8,"y":16.8},{"t":92.9,"y":15.1},{"t":92.95,"y":13.5},{"t":93.0,"y":11.9},{"t":93.05,"y":10.3},{"t":93.1,"y":8.7},
{"t":93.8,"y":11.3},{"t":94.0,"y":9.6},{"t":94.1,"y":7.4},{"t":94.2,"y":5.1},{"t":94.3,"y":3.2},{"t":94.4,"y":1.4},{"t":94.5,"y":8.8},{"t":94.6,"y":6.3},{"t":94.7,"y":4.2},{"t":94.8,"y":2.0},{"t":94.9,"y":0.7},{"t":95.0,"y":7.5},{"t":95.1,"y":5.6},{"t":95.2,"y":3.4},{"t":95.3,"y":1.5},{"t":95.4,"y":9.8},{"t":95.5,"y":6.9},{"t":95.6,"y":4.8},{"t":95.7,"y":2.6},{"t":95.8,"y":0.9},{"t":95.9,"y":8.1},{"t":96.0,"y":5.9},{"t":96.1,"y":3.7},{"t":96.2,"y":1.8},{"t":96.4,"y":4.6},{"t":96.6,"y":2.4},{"t":94.6,"y":10.6},{"t":95.3,"y":11.3},
{"t":96.2,"y":19.0},{"t":96.3,"y":17.8},{"t":96.4,"y":16.5},{"t":96.5,"y":15.3},{"t":96.6,"y":14.0},{"t":96.7,"y":12.8},{"t":96.8,"y":11.5},{"t":96.9,"y":10.2},{"t":97.0,"y":8.9},{"t":97.1,"y":7.7},{"t":97.2,"y":6.4},{"t":97.3,"y":5.1},{"t":97.4,"y":3.9},{"t":97.5,"y":2.8},
{"t":97.6,"y":17.4},{"t":97.8,"y":15.6},{"t":98.0,"y":14.0},{"t":98.1,"y":12.4},{"t":98.2,"y":10.7},{"t":98.4,"y":9.1},{"t":98.5,"y":12.8},{"t":98.7,"y":11.6},{"t":98.9,"y":10.3},{"t":99.1,"y":12.0},{"t":99.3,"y":10.8},{"t":99.5,"y":8.6},{"t":99.6,"y":7.0},{"t":99.4,"y":6.3},{"t":99.2,"y":5.9},{"t":99.0,"y":6.7},{"t":98.8,"y":7.4},{"t":98.6,"y":8.2},{"t":98.3,"y":5.2},{"t":98.1,"y":3.6},{"t":97.9,"y":2.1},{"t":98.5,"y":1.4},{"t":98.9,"y":2.8},{"t":99.3,"y":1.7},{"t":99.7,"y":3.5},{"t":99.8,"y":12.9},{"t":99.9,"y":15.5},{"t":98.4,"y":16.1},{"t":99.0,"y":14.6},
{"t":98.4,"y":30.9},{"t":99.7,"y":24.1},{"t":99.9,"y":22.9}
]},
"layer":[
{"data":{"name":"real"},
"mark":{"type":"point","filled":true,"opacity":1},
"encoding":{
"x":{"field":"t","type":"quantitative","scale":{"domain":[0,100],"nice":false},"axis":{"orient":"bottom","values":[0,20,40,60,80,100],"title":"Time [h]","labelPadding":20,"titlePadding":7}},
"y":{"field":"y","type":"quantitative","scale":{"domain":[0,150],"nice":false},"axis":{"orient":"left","values":[0,50,100,150],"title":"Throughput [# cpl.jobs/hour]","labelPadding":13,"titlePadding":9}},
"shape":{"datum":"real","type":"nominal","scale":{"domain":["model","real"],"range":["circle","circle"]},"legend":{"title":null,"orient":"none","legendX":609,"legendY":9,"strokeColor":"#333","fillColor":"white","padding":8,"rowPadding":12,"symbolOffset":16,"labelOffset":19,"labelFontSize":21,"labelColor":"black","symbolOpacity":1}},
"size":{"datum":"real","type":"nominal","scale":{"domain":["model","real"],"range":[100,18]}},
"fill":{"datum":"real","type":"nominal","scale":{"domain":["model","real"],"range":["transparent","black"]}},
"stroke":{"datum":"real","type":"nominal","scale":{"domain":["model","real"],"range":["black","black"]}},
"strokeWidth":{"datum":"real","type":"nominal","scale":{"domain":["model","real"],"range":[0.9,0]}}
}},
{"data":{"name":"model"},
"mark":{"type":"point","filled":true,"opacity":1},
"encoding":{
"x":{"field":"t","type":"quantitative","axis":null},
"y":{"field":"y","type":"quantitative","axis":null},
"shape":{"datum":"model","type":"nominal"},
"size":{"datum":"model","type":"nominal"},
"fill":{"datum":"model","type":"nominal"},
"stroke":{"datum":"model","type":"nominal"},
"strokeWidth":{"datum":"model","type":"nominal"}
}},
{"data":{"values":[{"t":0,"y":0}]},
"mark":{"type":"point","opacity":0},
"encoding":{
"x":{"field":"t","type":"quantitative","axis":{"orient":"top","values":[0,20,40,60,80,100],"labels":false,"title":null}},
"y":{"field":"y","type":"quantitative","axis":{"orient":"right","values":[0,50,100,150],"labels":false,"title":null}}
}}
],
"resolve":{"axis":{"x":"independent","y":"independent"}}
}
